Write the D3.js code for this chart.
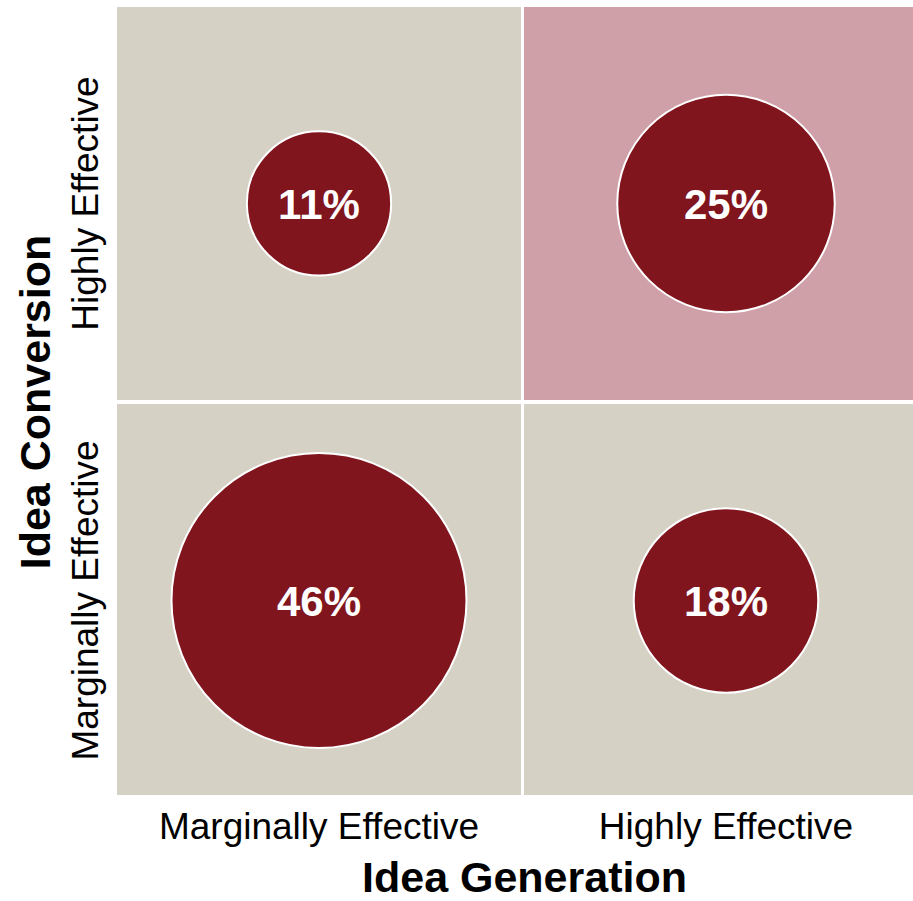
<!DOCTYPE html>
<html>
<head>
<meta charset="utf-8">
<script src="https://cdn.jsdelivr.net/npm/d3@7/dist/d3.min.js"></script>
<style>
  html, body { margin: 0; padding: 0; background: #ffffff; }
  svg { display: block; font-family: "Liberation Sans", Arial, sans-serif; }
</style>
</head>
<body>
<svg id="chart" width="913" height="901"></svg>
<script>
// Effectiveness levels on each axis
const generationLevels = ["Marginally Effective", "Highly Effective"];   // x, left to right
const conversionLevels = ["Highly Effective", "Marginally Effective"];   // y, top to bottom

// Share of respondents in each quadrant
const cellGeneration = ["Marginally Effective", "Highly Effective", "Marginally Effective", "Highly Effective"];
const cellConversion = ["Highly Effective", "Highly Effective", "Marginally Effective", "Marginally Effective"];
const cellShare = [11, 25, 46, 18];

const xTitle = "Idea Generation";
const yTitle = "Idea Conversion";

const cells = cellShare.map((v, i) => ({
  gen: cellGeneration[i],
  conv: cellConversion[i],
  value: v
}));

const svg = d3.select("#chart");

const x = d3.scaleBand()
  .domain(generationLevels)
  .range([117, 928])
  .paddingInner(0.0074);

const y = d3.scaleBand()
  .domain(conversionLevels)
  .range([7, 797])
  .paddingInner(0.0102);

const r = d3.scaleSqrt()
  .domain([0, 46])
  .range([0, 147.5]);

const beige = "rgb(213,209,197)";
const pink = "rgb(207,160,168)";
const maroon = "rgb(128,21,30)";

// Quadrant backgrounds
svg.append("g")
  .selectAll("rect")
  .data(cells)
  .join("rect")
  .attr("x", d => x(d.gen))
  .attr("y", d => y(d.conv))
  .attr("width", x.bandwidth())
  .attr("height", d => d.conv === "Marginally Effective" ? 795 - y(d.conv) : y.bandwidth())
  .attr("fill", d => (d.gen === "Highly Effective" && d.conv === "Highly Effective") ? pink : beige);

// Bubbles sized by share
const bubbles = svg.append("g")
  .selectAll("g")
  .data(cells)
  .join("g")
  .attr("transform", d => `translate(${x(d.gen) + x.bandwidth() / 2},${y(d.conv) + y.bandwidth() / 2})`);

bubbles.append("circle")
  .attr("r", d => r(d.value))
  .attr("fill", maroon)
  .attr("stroke", "#ffffff")
  .attr("stroke-width", 2);

bubbles.append("text")
  .attr("text-anchor", "middle")
  .attr("dy", "0.36em")
  .attr("fill", "#ffffff")
  .attr("font-weight", "bold")
  .attr("font-size", 42)
  .text(d => d.value + "%");

// X axis labels
const xAxis = svg.append("g")
  .attr("transform", "translate(0,795)")
  .call(d3.axisBottom(x).tickSize(0).tickPadding(0));
xAxis.select(".domain").remove();
xAxis.selectAll("text")
  .attr("dy", null)
  .attr("y", 44)
  .attr("font-family", "Liberation Sans, Arial, sans-serif")
  .attr("font-size", 37)
  .attr("fill", "#000000");

// Y axis labels (rotated)
const yAxis = svg.append("g")
  .attr("transform", "translate(117,0)")
  .call(d3.axisLeft(y).tickSize(0).tickPadding(0));
yAxis.select(".domain").remove();
yAxis.selectAll("text")
  .attr("dy", null)
  .attr("x", null)
  .attr("text-anchor", "middle")
  .attr("transform", "translate(-19,0) rotate(-90)")
  .attr("font-family", "Liberation Sans, Arial, sans-serif")
  .attr("font-size", 37)
  .attr("fill", "#000000");

// Axis titles
svg.append("text")
  .attr("x", (x.range()[0] + x.range()[1]) / 2 + 2)
  .attr("y", 892)
  .attr("text-anchor", "middle")
  .attr("font-weight", "bold")
  .attr("font-size", 43)
  .attr("fill", "#000000")
  .text(xTitle);

svg.append("text")
  .attr("transform", `translate(50,${(y.range()[0] + y.range()[1]) / 2}) rotate(-90)`)
  .attr("text-anchor", "middle")
  .attr("font-weight", "bold")
  .attr("font-size", 43)
  .attr("fill", "#000000")
  .text(yTitle);
</script>
</body>
</html>
